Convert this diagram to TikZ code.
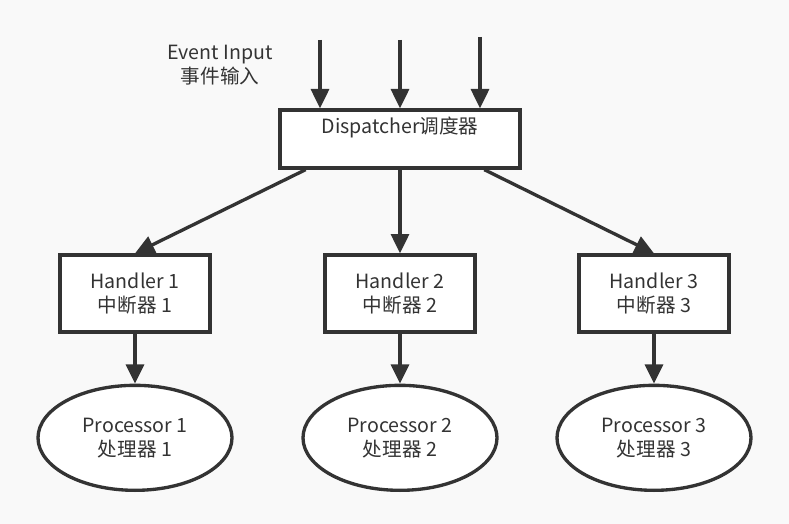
\documentclass[tikz,border=0pt]{standalone}
\usepackage{fontspec}
\setmainfont{Noto Sans CJK SC}
\usetikzlibrary{positioning, arrows.meta, shapes.geometric}

\definecolor{ink}{HTML}{333333}
\definecolor{paper}{HTML}{F9F9F9}

\tikzset{
  box/.style={rectangle, draw=ink, fill=white, line width=2.5pt,
    minimum width=112.5pt, minimum height=57.75pt, align=center},
  proc/.style={ellipse, draw=ink, fill=white, line width=2.5pt,
    minimum width=145.5pt, minimum height=78.75pt, align=center},
  flow/.style={draw=ink, line width=2.5pt,
    -{Triangle[length=14.5pt, width=13.5pt]}}
}

\begin{document}
\begin{tikzpicture}[x=0.75pt, y=-0.75pt, node distance=37.5pt,
  font=\fontsize{14.7}{18}\selectfont, text=ink]
  \fill[paper] (0,0) rectangle (789,524);

  \node[rectangle, draw=ink, fill=white, line width=2.5pt, inner ysep=0pt,
    minimum width=180pt, text height=18pt, text depth=25.5pt]
    (disp) at (400,139) {Dispatcher调度器};
  \node[align=center] (evt) at (220,65) {Event Input\\事件输入};

  \coordinate (in1) at (320,40);
  \coordinate (in2) at (400,40);
  \coordinate (in3) at (480,37);

  \node[box] (h1) at (135,293.5) {Handler 1\\中断器 1};
  \node[box] (h2) at (400,293.5) {Handler 2\\中断器 2};
  \node[box] (h3) at (654,293.5) {Handler 3\\中断器 3};

  \node[proc] (p1) [below=of h1] {Processor 1\\处理器 1};
  \node[proc] (p2) [below=of h2] {Processor 2\\处理器 2};
  \node[proc] (p3) [below=of h3] {Processor 3\\处理器 3};

  \path[every edge/.style={flow}]
  (in1) edge (in1 |- disp.north)
    (in2) edge (in2 |- disp.north)
    (in3) edge (in3 |- disp.north)
  (disp.198) edge (h1.north)
    (disp) edge (h2)
    (disp.340) edge (h3.north)
  (h1) edge (p1)
    (h2) edge (p2)
    (h3) edge (p3);
\end{tikzpicture}
\end{document}
